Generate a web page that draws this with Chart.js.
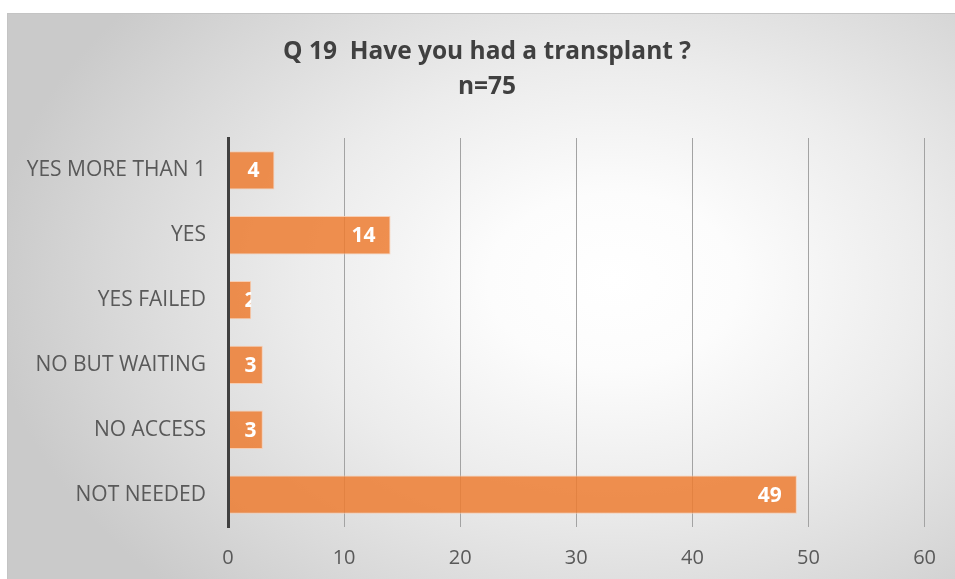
<!DOCTYPE html>
<html>
<head>
<meta charset="utf-8">
<script src="https://cdn.jsdelivr.net/npm/chart.js@4.4.0/dist/chart.umd.min.js"></script>
<style>
    html, body { margin: 0; padding: 0; background: #fff; overflow: hidden; }
    #frame {
        position: absolute;
        left: 7px;
        top: 13px;
        width: 960px;
        height: 580px;
        border: 1px solid #c4c4c4;
        background: radial-gradient(ellipse 65% 75% at 63% 46%, #ffffff 0%, #fcfcfc 20%, #ececec 50%, #d8d8d8 80%, #cacaca 100%);
    }
    #chart { position: absolute; left: 0; top: 0; }
</style>
</head>
<body>
<div id="frame">
    <canvas id="chart" width="947" height="565"></canvas>
</div>
<script>
// Chart data
const categories = ['YES MORE THAN 1', 'YES', 'YES FAILED', 'NO BUT WAITING', 'NO ACCESS', 'NOT NEEDED'];
const counts = [4, 14, 2, 3, 3, 49];
const titleLines = ['Q 19  Have you had a transplant ?', 'n=75'];

const FONT = '"Open Sans", sans-serif';

// Two-line title, centred a little right of the canvas middle like the original
const chartTitle = {
    id: 'chartTitle',
    afterDraw(chart) {
        const ctx = chart.ctx;
        ctx.save();
        ctx.font = 'bold 24.5px ' + FONT;
        ctx.fillStyle = '#404040';
        ctx.textAlign = 'center';
        ctx.textBaseline = 'middle';
        titleLines.forEach((line, i) => {
            ctx.fillText(line, 479, 38 + i * 35);
        });
        ctx.restore();
    }
};

// White value labels drawn inside the end of each bar
const barLabels = {
    id: 'barLabels',
    afterDatasetsDraw(chart) {
        const ctx = chart.ctx;
        const meta = chart.getDatasetMeta(0);
        ctx.save();
        ctx.font = 'bold 21px ' + FONT;
        ctx.fillStyle = '#ffffff';
        ctx.textBaseline = 'middle';
        meta.data.forEach((bar, i) => {
            const p = bar.getProps(['x', 'y', 'base', 'height'], true);
            const text = String(counts[i]);
            const w = ctx.measureText(text).width;
            const left = Math.max(p.base + 16, p.x - 15 - w);
            // clip so a label never spills past a short bar
            ctx.save();
            ctx.beginPath();
            ctx.rect(p.base, p.y - p.height / 2, p.x - p.base, p.height);
            ctx.clip();
            ctx.fillText(text, left, p.y + 1);
            ctx.restore();
        });
        ctx.restore();
    }
};

const ctx = document.getElementById('chart').getContext('2d');
const chart = new Chart(ctx, {
    type: 'bar',
    data: {
        labels: categories,
        datasets: [{
            data: counts,
            backgroundColor: 'rgba(237, 125, 49, 0.85)',
            borderColor: 'rgba(248, 203, 173, 0.9)',
            borderWidth: 1,
            borderSkipped: false,
            barPercentage: 0.59,
            categoryPercentage: 1
        }]
    },
    options: {
        indexAxis: 'y',
        responsive: false,
        animation: false,
        layout: {
            padding: { left: 0, right: 27, top: 124, bottom: 0 }
        },
        plugins: {
            legend: { display: false },
            tooltip: { enabled: false },
            title: { display: false }
        },
        scales: {
            x: {
                min: 0,
                max: 60,
                ticks: {
                    stepSize: 10,
                    color: '#595959',
                    font: { family: FONT, size: 20 },
                    padding: 19
                },
                grid: {
                    color: '#a3a3a3',
                    lineWidth: 1,
                    drawTicks: false
                },
                border: { display: false },
                afterFit(scale) { scale.height = 52; }
            },
            y: {
                ticks: {
                    color: '#595959',
                    font: { family: FONT, size: 21 },
                    padding: 22
                },
                grid: { display: false, drawTicks: false },
                border: { display: true, color: '#404040', width: 3, z: 1 },
                afterFit(scale) { scale.width = 220; }
            }
        }
    },
    plugins: [barLabels, chartTitle]
});
</script>
</body>
</html>
